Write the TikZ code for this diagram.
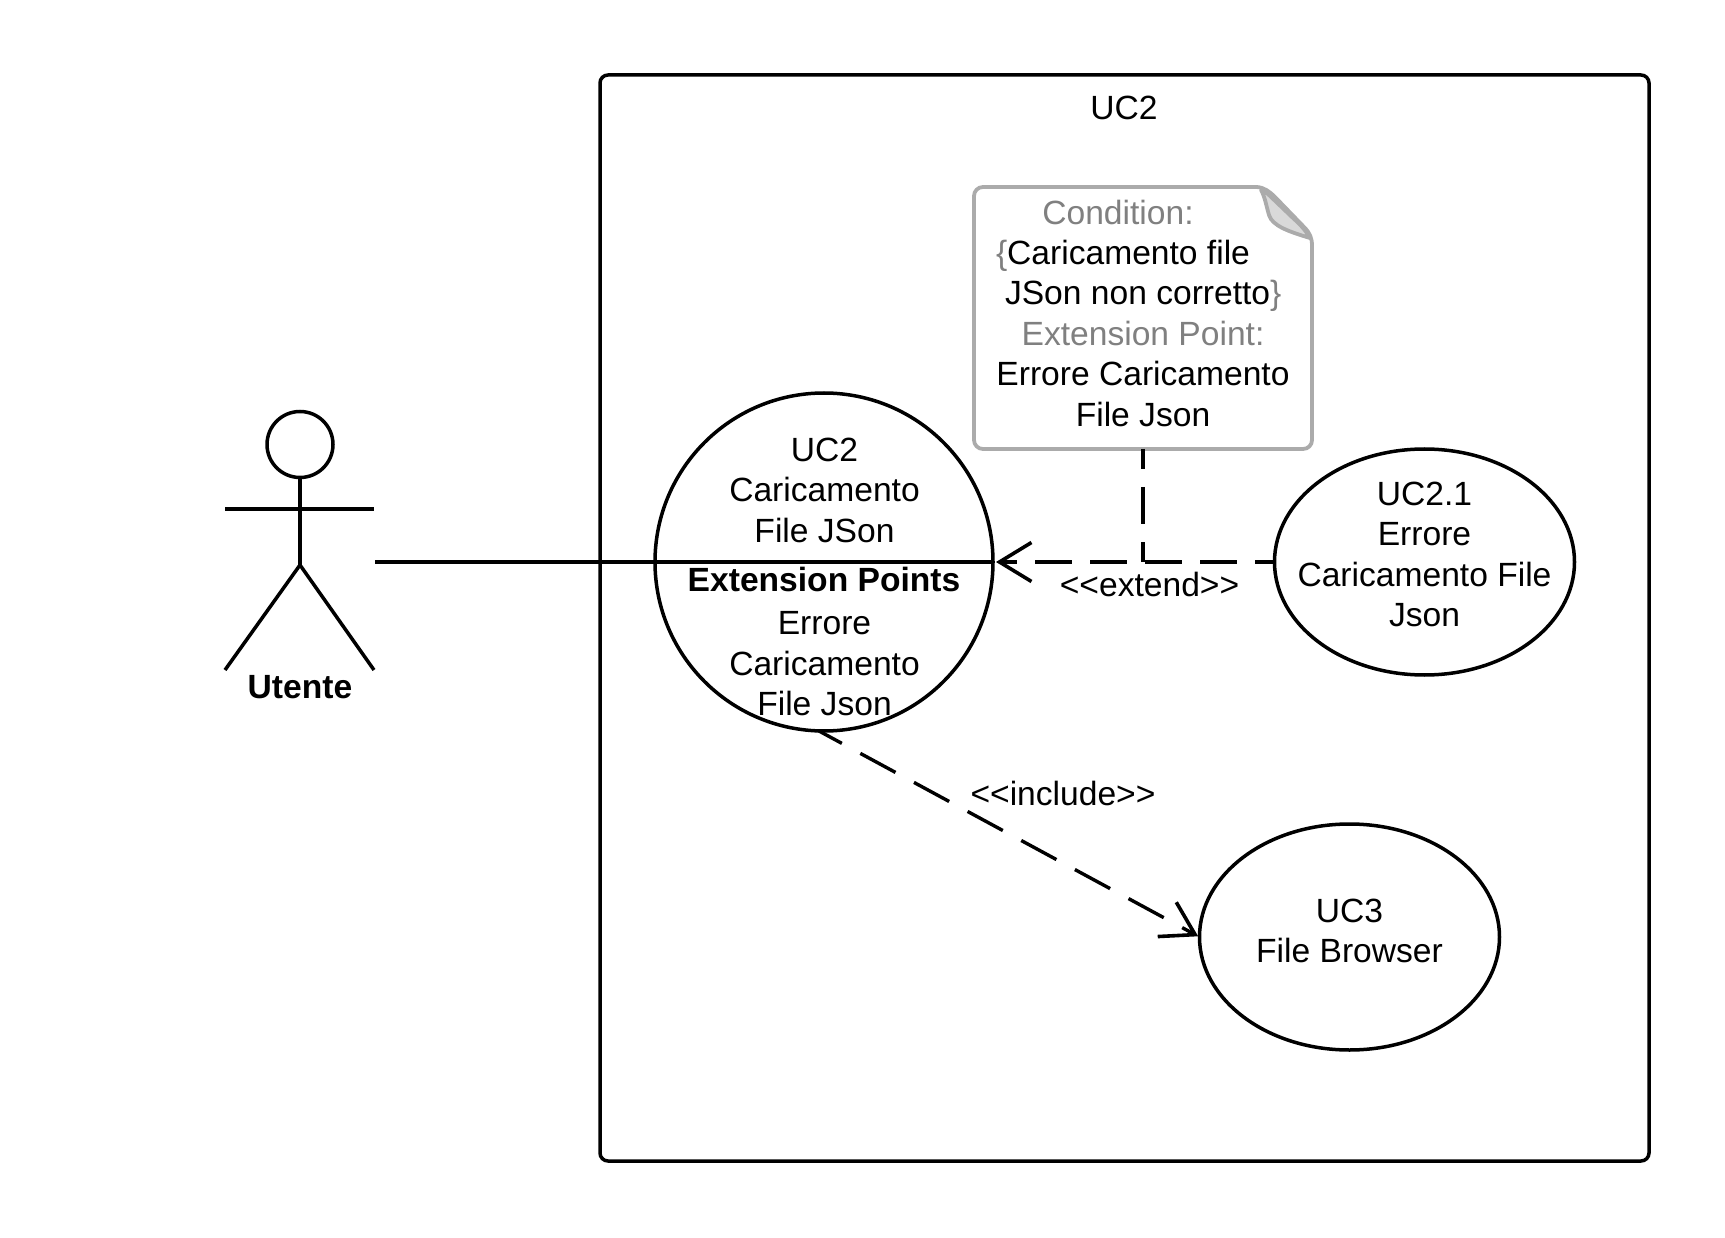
\documentclass[tikz,border=0pt]{standalone}
\usepackage{fontspec}
\setmainfont{Liberation Sans}
\usetikzlibrary{arrows.meta,shapes.geometric}
\definecolor{notegray}{HTML}{ABABAB}
\definecolor{notetext}{HTML}{808080}
\definecolor{foldfill}{HTML}{D9D9D9}
\tikzset{
  x=1pt,y=-1pt,
  every node/.style={inner sep=0pt,outer sep=0pt,font=\fontsize{33.6}{40.5}\selectfont},
  ln/.style={line width=3.5pt,draw=black},
  thickln/.style={line width=4pt,draw=black},
  usecase/.style={ellipse,ln,minimum width=#1,fill=white},
  txt/.style={anchor=base,align=center},
  gtxt/.style={txt,text=notetext},
  btxt/.style={txt,font=\fontsize{33.6}{40.5}\selectfont\bfseries},
  dashln/.style={thickln,dash pattern=on 37pt off 18pt,dash phase=17pt},
  incdash/.style={line width=3.4pt,draw=black,dash pattern=on 40pt off 21pt,dash phase=14pt},
  openhead/.style={-{Straight Barb[length=32pt,width=39pt,line width=3.6pt]}},
}
\begin{document}
\begin{tikzpicture}
\useasboundingbox (0,0) rectangle (1725,1238);
\fill[white] (0,0) rectangle (1725,1238);
% system frame
\draw[ln,rounded corners=8pt] (600,75) rectangle (1649,1161);
\node[txt] (frametitle) at (1124,120) {UC2};
% actor
\node[circle,ln,minimum size=66pt] (head) at (300,444.5) {};
\coordinate (hip) at (300,565);
\coordinate (armL) at (225,509);
\coordinate (armR) at (374,509);
\coordinate (legL) at (225,670);
\coordinate (legR) at (374,670);
\coordinate (assocstart) at (375,562);
\draw[ln] (head.south) -- (hip);
\draw[ln] (armL) -- (armR);
\draw[ln] (legL) -- (hip) -- (legR);
\node[btxt] (actorname) at (300,698) {Utente};
% use cases
\node[usecase=338pt,minimum height=338pt] (uc2) at (824,562) {};
\node[usecase=300pt,minimum height=226pt] (uc21) at (1424.5,562) {};
\node[usecase=300pt,minimum height=226pt] (uc3) at (1349.5,937) {};
\node[txt] (a1) at (824.5,461) {UC2};
\node[txt] (a2) at (824.5,501.5) {Caricamento};
\node[txt] (a3) at (824.5,542) {File JSon};
\node[btxt] (a4) at (824,591) {Extension Points};
\node[txt] (a5) at (824.5,634) {Errore};
\node[txt] (a6) at (824.5,675) {Caricamento};
\node[txt] (a7) at (824.5,715) {File Json};
\node[txt] (b1) at (1424.5,505) {UC2.1};
\node[txt] (b2) at (1424.5,545.5) {Errore};
\node[txt] (b3) at (1424.5,586) {Caricamento File};
\node[txt] (b4) at (1424.5,626.5) {Json};
\node[txt] (c1) at (1349.5,922) {UC3};
\node[txt] (c2) at (1349.5,962.5) {File Browser};
% note
\node[minimum width=338pt,minimum height=262pt] (note) at (1143,318) {};
\draw[line width=3.8pt,draw=notegray,fill=white,line join=round]
  (974,196) .. controls (974,191) and (978,187) .. (983,187) -- (1256,187)
  .. controls (1264,187) and (1270,192) .. (1275,197) -- (1304,227)
  .. controls (1310,233) and (1312,238) .. (1312,246)
  -- (1312,440) .. controls (1312,445) and (1308,449) .. (1303,449)
  -- (983,449) .. controls (978,449) and (974,445) .. (974,440) -- cycle;
\draw[line width=3.8pt,draw=notegray,fill=foldfill,line join=round]
  (1261,190) .. controls (1265,197) and (1266,205) .. (1269,215)
  .. controls (1272,226) and (1290,232) .. (1310,238)
  .. controls (1306,231) and (1300,224) .. (1294,219)
  -- (1270,196) .. controls (1267,193) and (1264,191) .. (1261,190) -- cycle;
\node[gtxt] (n1) at (1118,224.5) {Condition:};
\node[txt,anchor=base west] (n2) at (996,264.5) {\textcolor{notetext}{\{}Caricamento file};
\node[txt,anchor=base west] (n3) at (1005,305) {JSon non corretto\textcolor{notetext}{\}}};
\node[gtxt] (n4) at (1143,345.5) {Extension Point:};
\node[txt] (n5) at (1143,386) {Errore Caricamento};
\node[txt] (n6) at (1143,426.5) {File Json};
% connectors
\draw[thickln] (assocstart) -- (uc2.east);
\draw[dashln,openhead,shorten >=3pt] (uc21.west) -- (uc2.east);
\draw[dashln] (note.south) -- (note.south |- uc21.west);
\draw[incdash,openhead,shorten >=1.5pt] ([xshift=-5pt]uc2.south) -- (uc3.west);
\node[txt] (extlabel) at (1149.5,596.5) {<{}<extend>{}>};
\node[txt] (inclabel) at (1063,805) {<{}<include>{}>};
\end{tikzpicture}
\end{document}
